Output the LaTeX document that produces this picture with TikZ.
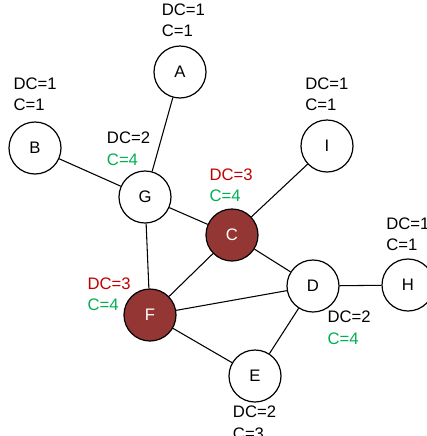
\documentclass[tikz,border=0pt]{standalone}
\usepackage{fontspec}
\setmainfont{Liberation Sans}
\usepackage{xcolor}
\usetikzlibrary{positioning}
\definecolor{hubfill}{RGB}{148,54,52}
\definecolor{dcred}{RGB}{192,0,0}
\definecolor{cgreen}{RGB}{0,176,80}
\tikzset{
    vertex/.style={circle, draw, line width=0.9pt, minimum size=39pt, inner sep=0pt, fill=white, font=\fontsize{12.5}{14}\selectfont},
    hub/.style={vertex, fill=hubfill, text=white},
    info/.style={anchor=north west, inner sep=0pt, align=left, font=\fontsize{12.5}{16.3}\selectfont},
    edge/.style={line width=0.8pt}
}
\begin{document}
\begin{tikzpicture}[x=0.75pt, y=-0.75pt]
            \useasboundingbox (0,0) rectangle (427,436);
            \node[vertex] at (180,72) (A) {A};
            \node[vertex] at (35,148) (B) {B};
            \node[vertex] at (327,146) (I) {I};
            \node[vertex] at (145,197) (G) {G};
            \node[hub] at (232,235) (C) {C};
            \node[vertex] at (313,286) (D) {D};
            \node[vertex] at (408,285) (H) {H};
            \node[hub] at (150,315) (F) {F};
            \node[vertex] at (255,376) (E) {E};
            \draw[edge] (A) -- (G);
            \draw[edge] (B) -- (G);
            \draw[edge] (G) -- (C);
            \draw[edge] (G) -- (F);
            \draw[edge] (I) -- (C);
            \draw[edge] (C) -- (F);
            \draw[edge] (C) -- (D);
            \draw[edge] (F) -- (D);
            \draw[edge] (F) -- (E);
            \draw[edge] (E) -- (D);
            \draw[edge] (D) -- (H);
            \node[info] at (161.5,3.3) (infoA) {DC=1\\C=1};
            \node[info] at (13.3,77.3) (infoB) {DC=1\\C=1};
            \node[info] at (305,77.3) (infoI) {DC=1\\C=1};
            \node[info] at (106.7,131.7) (infoG) {DC=2\\\textcolor{cgreen}{C=4}};
            \node[info] at (209.3,168.3) (infoC) {\textcolor{dcred}{DC=3}\\\textcolor{cgreen}{C=4}};
            \node[info] at (87.3,277.3) (infoF) {\textcolor{dcred}{DC=3}\\\textcolor{cgreen}{C=4}};
            \node[info] at (327.3,311) (infoD) {DC=2\\\textcolor{cgreen}{C=4}};
            \node[info] at (386,217.3) (infoH) {DC=1\\C=1};
            \node[info] at (232.7,405.7) (infoE) {DC=2\\C=3};
        \end{tikzpicture}
\end{document}
